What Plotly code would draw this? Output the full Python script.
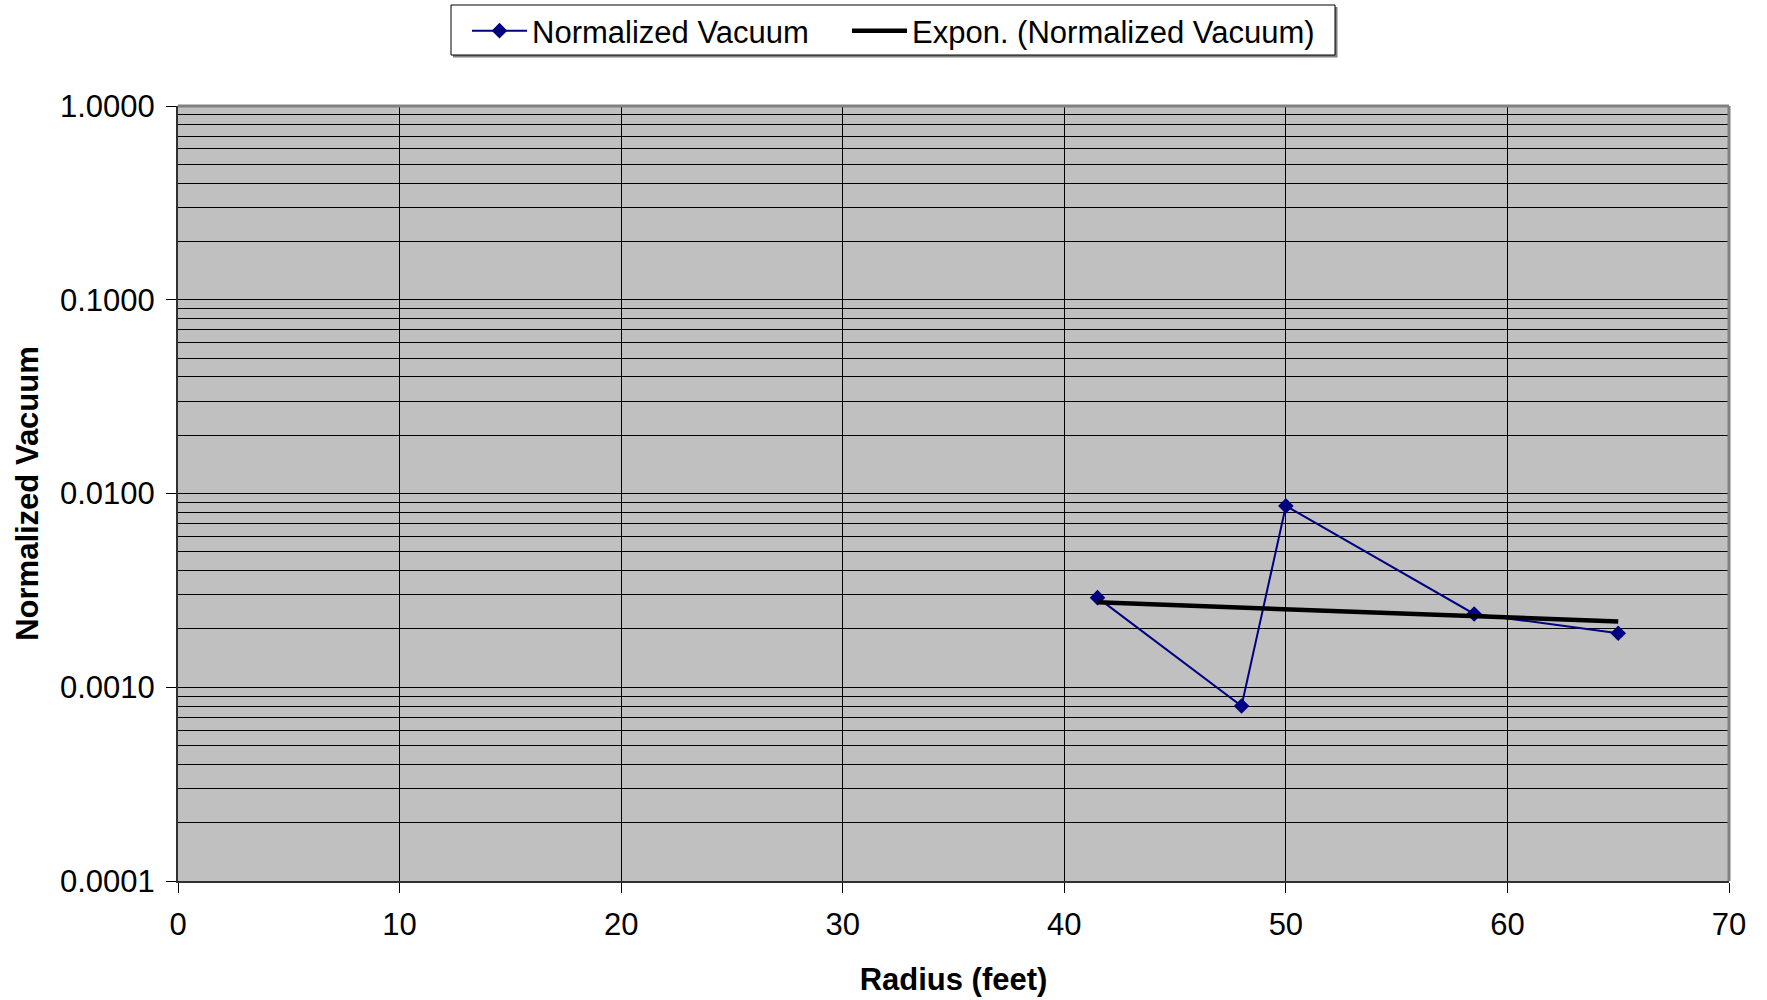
import numpy as np
import plotly.graph_objects as go

# Measured normalized vacuum vs. radial distance
radius_ft = [41.5, 48.0, 50.0, 58.5, 65.0]
norm_vacuum = [0.0029, 0.0008, 0.00863, 0.00239, 0.0019]

x_ticks = [0, 10, 20, 30, 40, 50, 60, 70]
y_ticks = [0.0001, 0.001, 0.01, 0.1, 1.0]
y_ticklabels = ["0.0001", "0.0010", "0.0100", "0.1000", "1.0000"]

# Minor log grid (2..9 within each decade)
y_minor = [m * 10.0 ** e for e in range(-4, 0) for m in range(2, 10)]

# Exponential trendline fitted on ln(y)
b, ln_a = np.polyfit(radius_ft, np.log(norm_vacuum), 1)
trend_x = [min(radius_ft), max(radius_ft)]
trend_y = [float(np.exp(ln_a + b * xv)) for xv in trend_x]

FONT = "Liberation Sans, Arial, sans-serif"
TICK_SIZE = 31
TITLE_SIZE = 31

# plot area in pixels (for paper-coordinate placement of the legend box)
L, R, T, B = 178, 38, 106, 119
PW, PH = 1767 - L - R, 1000 - T - B


def px_x(px):
    return (px - L) / PW


def px_y(py):
    return 1 + (T - py) / PH


fig = go.Figure()
fig.add_trace(go.Scatter(
    x=radius_ft, y=norm_vacuum, mode="lines+markers",
    name="Normalized Vacuum", legend="legend",
    line=dict(color="#000080", width=2),
    marker=dict(symbol="diamond", size=12, color="#000080"),
))
fig.add_trace(go.Scatter(
    x=trend_x, y=trend_y, mode="lines",
    name="Expon. (Normalized Vacuum)", legend="legend2",
    line=dict(color="#000000", width=4.5),
))

# legend frame with drop shadow
fig.add_shape(type="rect", xref="paper", yref="paper",
              x0=px_x(453), x1=px_x(1337.5), y0=px_y(57.5), y1=px_y(7),
              fillcolor="#808080", line=dict(width=0))
fig.add_shape(type="rect", xref="paper", yref="paper",
              x0=px_x(451), x1=px_x(1335), y0=px_y(55), y1=px_y(5),
              fillcolor="white", line=dict(color="black", width=1))

# plot-area frame: gray top/right edges
fig.add_shape(type="line", xref="paper", yref="paper", x0=0, x1=1, y0=1, y1=1,
              line=dict(color="#808080", width=3))
fig.add_shape(type="line", xref="paper", yref="paper", x0=1, x1=1, y0=0, y1=1,
              line=dict(color="#808080", width=3))

legend_common = dict(
    orientation="h", xanchor="left", yref="container", y=1 - 4 / 1000, yanchor="top",
    bgcolor="rgba(0,0,0,0)", borderwidth=0, itemwidth=55,
    font=dict(family=FONT, size=TITLE_SIZE),
)

fig.update_layout(
    width=1767, height=1000,
    margin=dict(l=L, r=R, t=T, b=B, autoexpand=False),
    paper_bgcolor="white",
    plot_bgcolor="#C0C0C0",
    font=dict(family=FONT, size=TICK_SIZE, color="black"),
    showlegend=True,
    legend=dict(x=px_x(467), **legend_common),
    legend2=dict(x=px_x(847), **legend_common),
    xaxis=dict(
        range=[0, 70], tickvals=x_ticks, ticks="outside", ticklen=10,
        tickcolor="black", showgrid=True, gridcolor="black", gridwidth=1,
        zeroline=False, showline=True, linecolor="#303030", linewidth=2,
        ticklabelstandoff=5,
        title=dict(text="<b>Radius (feet)</b>", font=dict(family=FONT, size=TITLE_SIZE), standoff=27),
        tickfont=dict(family=FONT, size=TICK_SIZE),
    ),
    yaxis=dict(
        type="log", range=[-4, 0], tickvals=y_ticks, ticktext=y_ticklabels,
        ticks="outside", ticklen=10, tickcolor="black",
        showgrid=True, gridcolor="black", gridwidth=1,
        minor=dict(tickvals=y_minor, showgrid=True, gridcolor="black", gridwidth=1, ticks=""),
        zeroline=False, showline=True, linecolor="#303030", linewidth=2,
        ticklabelstandoff=5,
        title=dict(text="<b>Normalized Vacuum</b>", font=dict(family=FONT, size=TITLE_SIZE), standoff=12),
        tickfont=dict(family=FONT, size=TICK_SIZE),
    ),
)

fig.write_html("out.html")
